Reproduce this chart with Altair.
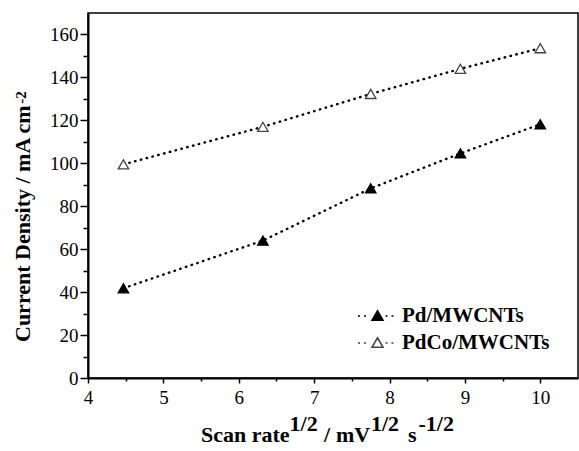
import altair as alt
import pandas as pd

# ---------------- data ----------------
scan_rate_sqrt = [4.47, 6.32, 7.75, 8.94, 10.0]
pd_mwcnts = [41.8, 64.0, 88.3, 104.6, 118.2]
pdco_mwcnts = [99.5, 117.0, 132.3, 144.0, 153.6]
series_names = ["Pd/MWCNTs", "PdCo/MWCNTs"]

x_major = [4, 5, 6, 7, 8, 9, 10]
x_minor = [4.5, 5.5, 6.5, 7.5, 8.5, 9.5]
y_major = [0, 20, 40, 60, 80, 100, 120, 140, 160]
y_minor = [10, 30, 50, 70, 90, 110, 130, 150]

rows = []
for name, vals in zip(series_names, [pd_mwcnts, pdco_mwcnts]):
    for xv, yv in zip(scan_rate_sqrt, vals):
        rows.append({"x": xv, "y": yv, "series": name})
df = pd.DataFrame(rows)

FONT = "Liberation Serif"

# Times bold advance widths (per 1000 em) for the rotated title
W = {"S": 556, "c": 444, "a": 500, "n": 556, " ": 250, "r": 444, "t": 333, "e": 444,
     "/": 278, "m": 833, "V": 722, "s": 389, "1": 500, "2": 500, "-": 333, "C": 722,
     "u": 556, "D": 722, "i": 278, "y": 500, "A": 722}


def tw(s, size):
    return sum(W.get(ch, 500) for ch in s) * size / 1000.0


xs = alt.Scale(domain=[4, 10.5], nice=False, zero=False)
ys = alt.Scale(domain=[0, 170], nice=False, zero=False)

common_axis = dict(title=None, grid=False, tickColor="black", tickWidth=1.5,
                   labelFont=FONT, labelFontSize=19, labelColor="black", labelFlush=False)

x_major_axis = alt.Axis(values=x_major, orient="bottom", tickSize=5, labelPadding=5,
                        domain=True, domainColor="black", domainWidth=2, format="d",
                        **common_axis)
y_major_axis = alt.Axis(values=y_major, orient="left", tickSize=8, labelPadding=2,
                        domain=True, domainColor="black", domainWidth=2, format="d",
                        **common_axis)
x_minor_axis = alt.Axis(values=x_minor, orient="bottom", tickSize=3, labels=False,
                        domain=False, **common_axis)
y_minor_axis = alt.Axis(values=y_minor, orient="left", tickSize=5, labels=False,
                        domain=False, **common_axis)

# legend symbol: dotted line with triangle in the middle
tri = "M0,-0.95L1.1,0.95L-1.1,0.95Z"
dots = "".join(f"M{a},0.1L{a + 0.4},0.1" for a in [-3.9, -2.7, 1.6, 2.8])
sym_path = dots + tri

legend = alt.Legend(title=None, orient="none", legendX=279, legendY=292,
                    symbolType=sym_path, symbolSize=100, symbolStrokeWidth=1.5,
                    labelFont=FONT, labelFontSize=21, labelFontWeight="bold",
                    labelColor="black", labelOffset=14, rowPadding=5, padding=0)

line = alt.Chart(df).mark_line(
    strokeDash=[0.5, 5.5], strokeWidth=2.4, strokeCap="round", color="black"
).encode(
    x=alt.X("x:Q", scale=xs, axis=x_major_axis),
    y=alt.Y("y:Q", scale=ys, axis=y_major_axis),
    detail="series:N",
)

points = alt.Chart(df).mark_point(
    shape="triangle-up", filled=True, size=110, strokeWidth=1.3, opacity=1
).encode(
    x=alt.X("x:Q", scale=xs, axis=x_minor_axis),
    y=alt.Y("y:Q", scale=ys, axis=y_minor_axis),
    fill=alt.Fill("series:N", scale=alt.Scale(domain=series_names, range=["black", "white"]),
                  legend=legend),
    stroke=alt.Stroke("series:N", scale=alt.Scale(domain=series_names, range=["black", "#444444"]),
                      legend=legend),
)


def txt(s, x, y, size, angle=0):
    return alt.Chart(alt.Data(values=[{}])).mark_text(
        text=s, font=FONT, fontSize=size, fontWeight="bold", align="left",
        baseline="alphabetic", angle=angle, color="black"
    ).encode(x=alt.value(x), y=alt.value(y))


# x title pieces: Scan rate^1/2 / mV^1/2 s^-1/2  (text, left edge in plot px, size, superscript?)
MAIN, SUP = 22, 22
x_pieces = [("Scan rate", 113, MAIN, 0), ("1/2", 201.6, SUP, 1), ("/", 236, MAIN, 0),
            ("mV", 248, MAIN, 0), ("1/2", 283, SUP, 1), ("s", 320, MAIN, 0),
            ("-1/2", 330.5, SUP, 1)]
title_layers = [txt(s, x, 417.5 if sup else 428.7, size) for s, x, size, sup in x_pieces]

# y title: Current Density / mA cm^-2 (rotated)
ymain = "Current Density / mA cm"
title_layers.append(txt(ymain, -58, 329, 22, 270))
title_layers.append(txt("-2", -62, 329 - tw(ymain, 22), 15, 270))

chart = alt.layer(line, points, *title_layers).resolve_axis(
    x="independent", y="independent"
).properties(
    width=490, height=365,
    autosize=alt.AutoSizeParams(type="none"),
    padding={"left": 88, "top": 13, "right": 1, "bottom": 73},
    background="white",
).configure_view(
    stroke="black", strokeWidth=1.5
).configure_axis(
    labelFont=FONT, labelFontSize=19, labelColor="black"
).configure_legend(
    labelFont=FONT
).configure_text(font=FONT)

chart.save("out.html", embed_options={"renderer": "svg", "actions": False})
